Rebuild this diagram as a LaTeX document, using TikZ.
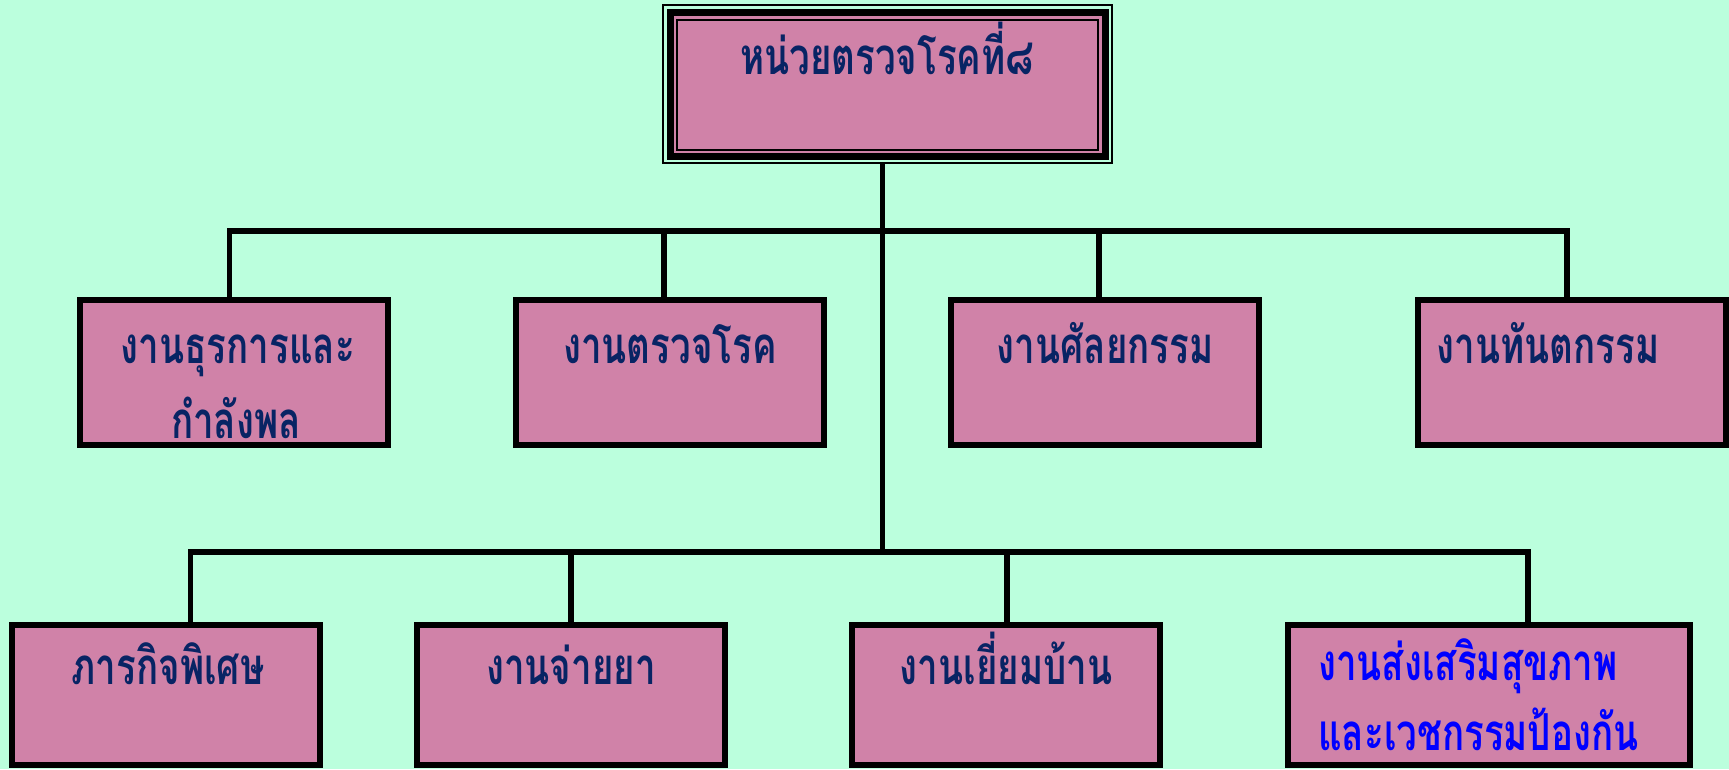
\documentclass[tikz,border=0pt]{standalone}
\usepackage{fontspec}
\newfontfamily\thaifont[Script=Thai, FakeStretch=0.72]{Loma}
\definecolor{bgmint}{RGB}{187,255,221}
\definecolor{boxpink}{RGB}{208,130,168}
\definecolor{navytext}{RGB}{8,36,100}
\definecolor{bluetext}{RGB}{0,0,255}
\tikzset{
  orgbox/.style={draw=black, fill=boxpink, line width=6pt, minimum width=308pt, inner sep=0pt},
  upbox/.style={orgbox, minimum height=145pt},
  lowbox/.style={orgbox, minimum height=140.5pt},
  label/.style={font=\thaifont\bfseries\fontsize{51}{58}\selectfont, text=navytext, inner sep=0pt, text depth=0pt, anchor=base},
  conn/.style={draw=black, line width=5.5pt},
}
\begin{document}
\begin{tikzpicture}[x=1pt,y=-1pt]
\useasboundingbox (0,0) rectangle (1729,769);
\fill[bgmint] (0,0) rectangle (1729,769);
% top box (triple border)
\node[draw=black, fill=boxpink, line width=7pt, minimum width=435pt, minimum height=143.5pt, inner sep=0pt] (top) at (887.5,84.25) {};
\node[draw=black, line width=2pt, minimum width=421pt, minimum height=129.5pt, inner sep=0pt] (topinner) at (887.5,84.75) {};
\node[draw=black, line width=2pt, minimum width=449pt, minimum height=158pt, inner sep=0pt] (topouter) at (887.5,84) {};
\node[label] (ttop) at (887,74) {หน่วยตรวจโรคที่๘};
% upper boxes
\node[upbox] (u1) at (234,372.5) {};
\node[upbox] (u2) at (670,372.5) {};
\node[upbox] (u3) at (1105,372.5) {};
\node[upbox] (u4) at (1572,372.5) {};
\node[label] (tu1a) at (238,363) {งานธุรการและ};
\node[label] (tu1b) at (236,438) {กำลังพล};
\node[label] (tu2) at (670,363) {งานตรวจโรค};
\node[label] (tu3) at (1105,363) {งานศัลยกรรม};
\node[label] (tu4) at (1548,363) {งานทันตกรรม};
% lower boxes
\node[lowbox] (l1) at (166,694.75) {};
\node[lowbox] (l2) at (571,694.75) {};
\node[lowbox] (l3) at (1006,694.75) {};
\node[lowbox, minimum width=402pt] (l4) at (1489,694.75) {};
\node[label] (tl1) at (168,684) {ภารกิจพิเศษ};
\node[label] (tl2) at (571,684) {งานจ่ายยา};
\node[label] (tl3) at (1006,684) {งานเยี่ยมบ้าน};
\node[label, anchor=base west, text=bluetext] (tl4a) at (1318,680) {งานส่งเสริมสุขภาพ};
\node[label, anchor=base west, text=bluetext] (tl4b) at (1318,750) {และเวชกรรมป้องกัน};
% bus coordinates
\coordinate (bu1) at (229.5,231);
\coordinate (bu2) at (664,231);
\coordinate (bu3) at (1099,231);
\coordinate (bu4) at (1567,231);
\coordinate (bc) at (882.5,552);
\coordinate (bl1) at (190.5,552);
\coordinate (bl2) at (571,552);
\coordinate (bl3) at (1007,552);
\coordinate (bl4) at (1528,552);
% connectors
\draw[conn] (bc |- topouter.south) -- (bc);
\draw[conn] (u1.north -| bu1) -- (bu1) -- (bu4) -- (u4.north -| bu4);
\draw[conn] (bu2) -- (u2.north -| bu2);
\draw[conn] (bu3) -- (u3.north -| bu3);
\draw[conn] (l1.north -| bl1) -- (bl1) -- (bl4) -- (l4.north -| bl4);
\draw[conn] (bl2) -- (l2.north -| bl2);
\draw[conn] (bl3) -- (l3.north -| bl3);
\end{tikzpicture}
\end{document}
